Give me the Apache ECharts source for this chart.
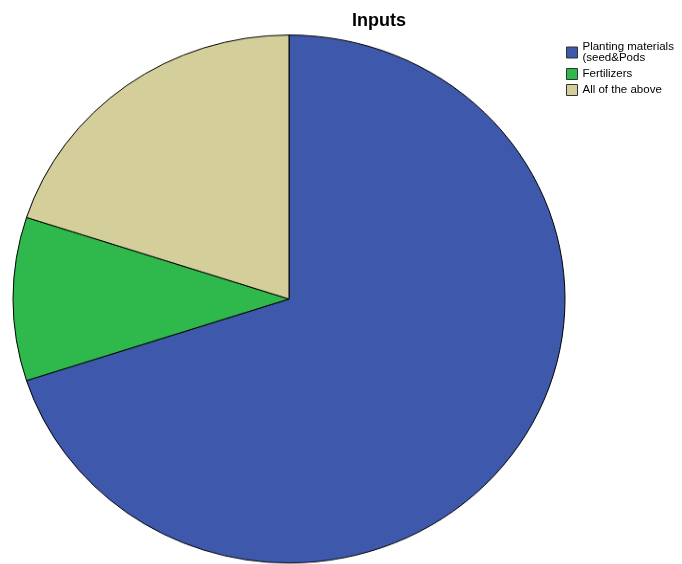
<!DOCTYPE html>
<html><head><meta charset="utf-8">
<script src="https://cdn.jsdelivr.net/npm/echarts@6/dist/echarts.min.js"></script>
<style>
html,body{margin:0;padding:0;width:682px;height:564px;overflow:hidden;background:#fff;position:relative}
#pie{position:absolute;left:0;top:0;width:682px;height:600px;transform-origin:0 0;transform:scaleY(0.9565)}
#over{position:absolute;left:0;top:0;width:682px;height:564px}
</style></head>
<body>
<div id="pie"></div>
<div id="over"></div>
<script>
const categories = ['Planting materials\n(seed&Pods', 'Fertilizers', 'All of the above'];
const values = [70, 10, 20];
const colors = ['#3e58ab', '#2fb84b', '#d4cf9a'];
const title = 'Inputs';

const data = categories.map((c, i) => ({name: c, value: values[i], itemStyle: {color: colors[i]}}));

const pie = echarts.init(document.getElementById('pie'), null, {renderer: 'canvas'});
pie.setOption({
  animation: false,
  series: [{
    type: 'pie',
    center: [289, 312.6],
    radius: [0, 276],
    startAngle: 90,
    clockwise: true,
    label: {show: false},
    labelLine: {show: false},
    silent: true,
    itemStyle: {borderColor: '#000', borderWidth: 1},
    data: data
  }]
});

const over = echarts.init(document.getElementById('over'), null, {renderer: 'canvas'});
over.setOption({
  animation: false,
  title: {
    text: title, left: 347, top: 7, padding: 5,
    textStyle: {fontFamily: 'Liberation Sans, Arial, sans-serif', fontSize: 18, fontWeight: 'bold', color: '#000'}
  },
  legend: {
    orient: 'vertical', left: 566, top: 41, padding: 0,
    itemWidth: 11, itemHeight: 11, itemGap: 4,
    icon: 'rect',
    itemStyle: {borderColor: '#333', borderWidth: 1},
    textStyle: {fontFamily: 'Liberation Sans, Arial, sans-serif', fontSize: 11.5, color: '#000', lineHeight: 11},
    data: categories
  },
  series: [{
    type: 'pie', radius: 0, center: [-100, -100], silent: true,
    label: {show: false}, labelLine: {show: false},
    itemStyle: {borderColor: '#333', borderWidth: 1},
    data: data
  }]
});
</script>
</body></html>
